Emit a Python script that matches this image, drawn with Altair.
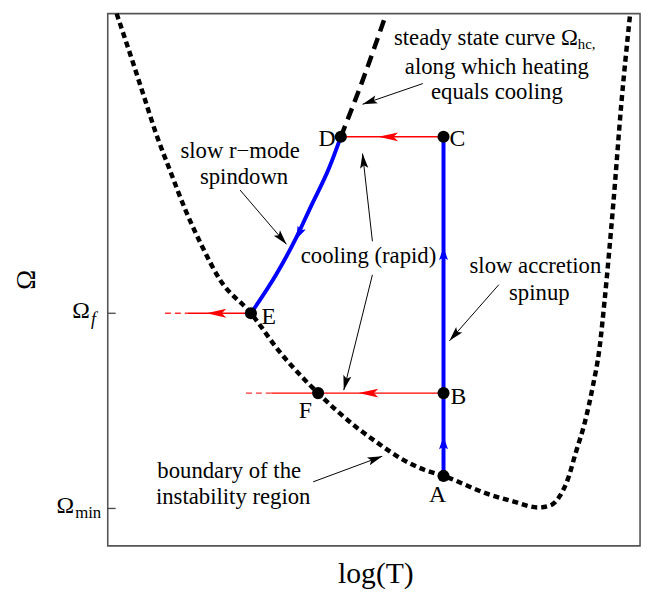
import math
import altair as alt
import pandas as pd

FONT = "Liberation Serif"

# ---- curves (x = log T, y = Omega; arbitrary units) ----
bnd_x = [9, 23, 36, 49, 63, 79, 96, 113, 145, 174, 198, 213, 231, 251, 274, 298, 321, 340,
         384, 411, 436, 448, 458, 466, 474, 483, 491, 498, 503, 512, 520, 529]
bnd_y = [540, 498, 458, 418, 381, 340, 303, 271, 236, 197, 170, 155, 138, 121, 104, 88, 77, 71,
         53, 45, 39, 41, 51, 68, 95, 125, 161, 201, 248, 348, 448, 540]

hc_x = [236, 258, 282]
hc_y = [415, 472, 540]

spin_x = [236, 224, 206, 191, 171, 145]
spin_y = [415, 383, 345, 313, 276, 236]

accr_x = [340, 340]
accr_y = [71, 415]

# ---- states ----
pt_names = ["A", "B", "C", "D", "E", "F"]
pt_x = [340, 340, 340, 236, 145, 213]
pt_y = [71, 155, 415, 415, 236, 155]
lab_x = [334, 355, 354, 222, 163, 200]
lab_y = [52, 151, 413, 413, 232, 137]

# ---- cooling lines (red) ----
cool_x1 = [236, 166, 81]
cool_x2 = [340, 340, 145]
cool_y = [415, 155, 236]
fade_x1 = [140, 58]
fade_x2 = [166, 81]
fade_y = [155, 236]

# ---- arrowheads: (from, tip) ----
red_fx = [290, 270, 116]
red_tx = [274, 254, 100]
red_fy = [415, 155, 236]
red_ty = [415, 155, 236]

blue_fx = [340, 340, 196]
blue_fy = [290, 98, 322]
blue_tx = [340, 340, 191]
blue_ty = [303, 111, 311]

# ---- annotation arrows (tail -> tip) ----
ann_x1 = [319, 134, 268, 268, 396, 208]
ann_y1 = [469, 361, 309, 275, 265, 65]
ann_x2 = [258, 181, 258, 239, 346, 278]
ann_y2 = [448, 306, 398, 158, 208, 91]

# ---- annotation texts ----
txt = ["along which heating", "equals cooling", "slow r\u2212mode", "spindown",
       "cooling (rapid)", "slow accretion", "spinup", "boundary of the", "instability region"]
txt_x = [394, 394, 134, 138, 264, 433, 437, 123, 127]
txt_y = [486, 460, 401, 374, 294, 284, 256, 76, 50]

# y ticks
tick_vals = [236, 38]

XS = alt.Scale(domain=[0, 539], nice=False, zero=False)
YS = alt.Scale(domain=[0, 540], nice=False, zero=False)
XAX = alt.Axis(title="log(T)", labels=False, ticks=False, domain=False, grid=False,
               titleFont=FONT, titleFontSize=30, titleFontWeight="normal", titleColor="black",
               titleX=271, titleY=28, titleBaseline="middle", titleAlign="center")
YAX = alt.Axis(title="\u03a9", labels=False, ticks=False, domain=False, grid=False,
               titleFont=FONT, titleFontSize=27, titleFontWeight="normal", titleColor="black",
               titleX=-82, titleY=269, titleAngle=270, titleBaseline="middle", titleAlign="center")


def X(f):
    return alt.X(f, type="quantitative", scale=XS, axis=XAX)


def Y(f):
    return alt.Y(f, type="quantitative", scale=YS, axis=YAX)


def ang(fx, fy, tx, ty):
    return [math.degrees(math.atan2(-(b - d), a - c)) % 360 for a, b, c, d in zip(tx, ty, fx, fy)]


bnd = pd.DataFrame({"x": bnd_x, "y": bnd_y, "o": range(len(bnd_x))})
hc = pd.DataFrame({"x": hc_x, "y": hc_y, "o": range(len(hc_x))})
spin = pd.DataFrame({"x": spin_x, "y": spin_y, "o": range(len(spin_x))})
accr = pd.DataFrame({"x": accr_x, "y": accr_y, "o": range(len(accr_x))})
pts = pd.DataFrame({"n": pt_names, "x": pt_x, "y": pt_y, "lx": lab_x, "ly": lab_y})
cool = pd.DataFrame({"x": cool_x1, "x2": cool_x2, "y": cool_y})
fade = pd.DataFrame({"x": fade_x1, "x2": fade_x2, "y": fade_y})
redh = pd.DataFrame({"x": red_tx, "y": red_ty, "a": ang(red_fx, red_fy, red_tx, red_ty)})
blueh = pd.DataFrame({"x": blue_tx, "y": blue_ty, "a": ang(blue_fx, blue_fy, blue_tx, blue_ty)})
ann = pd.DataFrame({"x": ann_x1, "y": ann_y1, "x2": ann_x2, "y2": ann_y2,
                    "a": ang(ann_x1, ann_y1, ann_x2, ann_y2)})
tx = pd.DataFrame({"t": txt, "x": txt_x, "y": txt_y})
ticks = pd.DataFrame({"v": tick_vals})

RED_HEAD = "M0,0 L-2,-0.45 L-1.55,0 L-2,0.45 Z"
BLK_HEAD = "M0,0 L-2,-0.55 L-1.6,0 L-2,0.55 Z"
BLU_HEAD = "M0,0 L-2,-0.7 L-1.6,0 L-2,0.7 Z"

layers = []
layers.append(alt.Chart(bnd).mark_line(color="black", strokeWidth=4.5, strokeDash=[6, 4],
                                       interpolate="monotone")
              .encode(x=X("x"), y=Y("y"), order="o:Q"))
layers.append(alt.Chart(hc).mark_line(color="black", strokeWidth=4.5, strokeDash=[12, 7],
                                      interpolate="monotone")
              .encode(x=X("x"), y=Y("y"), order="o:Q"))
layers.append(alt.Chart(cool).mark_rule(color="red", strokeWidth=1.5)
              .encode(x=X("x"), x2="x2", y=Y("y")))
layers.append(alt.Chart(fade).mark_rule(color="red", strokeWidth=1.5, strokeDash=[6, 4], opacity=0.8)
              .encode(x=X("x"), x2="x2", y=Y("y")))
layers.append(alt.Chart(spin).mark_line(color="blue", strokeWidth=4, interpolate="monotone")
              .encode(x=X("x"), y=Y("y"), order="o:Q"))
layers.append(alt.Chart(accr).mark_line(color="blue", strokeWidth=4)
              .encode(x=X("x"), y=Y("y"), order="o:Q"))
layers.append(alt.Chart(redh).mark_point(shape=RED_HEAD, size=400, filled=True, color="red",
                                         opacity=1, strokeWidth=0)
              .encode(x=X("x"), y=Y("y"), angle=alt.Angle("a:Q", scale=None)))
layers.append(alt.Chart(blueh).mark_point(shape=BLU_HEAD, size=169, filled=True, color="blue",
                                          opacity=1, strokeWidth=0)
              .encode(x=X("x"), y=Y("y"), angle=alt.Angle("a:Q", scale=None)))
layers.append(alt.Chart(ann).mark_rule(color="black", strokeWidth=1)
              .encode(x=X("x"), y=Y("y"), x2="x2", y2="y2"))
layers.append(alt.Chart(ann).mark_point(shape=BLK_HEAD, size=225, filled=True, color="black",
                                        opacity=1, strokeWidth=0)
              .encode(x=X("x2"), y=Y("y2"), angle=alt.Angle("a:Q", scale=None)))
layers.append(alt.Chart(pts).mark_circle(size=150, color="black", opacity=1)
              .encode(x=X("x"), y=Y("y")))
layers.append(alt.Chart(pts).mark_text(font=FONT, fontSize=24, color="black",
                                       align="center", baseline="middle")
              .encode(x=X("lx"), y=Y("ly"), text="n:N"))
layers.append(alt.Chart(tx).mark_text(font=FONT, fontSize=23, color="black",
                                      align="center", baseline="middle")
              .encode(x=X("x"), y=Y("y"), text="t:N"))
# first line with subscript
line1 = pd.DataFrame({"x": [476], "y": [515], "t": ["steady state curve \u03a9"]})
sub1 = pd.DataFrame({"x": [476], "y": [509], "t": ["hc,"]})
layers.append(alt.Chart(line1).mark_text(font=FONT, fontSize=23, color="black",
                                         align="right", baseline="middle")
              .encode(x=X("x"), y=Y("y"), text="t:N"))
layers.append(alt.Chart(sub1).mark_text(font=FONT, fontSize=15, color="black",
                                        align="left", baseline="middle")
              .encode(x=X("x"), y=Y("y"), text="t:N"))
# y ticks (inward) and labels
layers.append(alt.Chart(ticks).mark_rule(color="#444444", strokeWidth=1.3)
              .encode(y=Y("v"), x=alt.value(0), x2=alt.value(8)))
om = pd.DataFrame({"v": tick_vals, "t": ["\u03a9", "\u03a9"]})
layers.append(alt.Chart(om.iloc[[0]]).mark_text(font=FONT, fontSize=24, color="black",
                                                align="right", baseline="middle", dy=-2)
              .encode(y=Y("v"), x=alt.value(-18), text="t:N"))
layers.append(alt.Chart(om.iloc[[1]]).mark_text(font=FONT, fontSize=24, color="black",
                                                align="right", baseline="middle", dy=-2)
              .encode(y=Y("v"), x=alt.value(-34), text="t:N"))
subs = pd.DataFrame({"v": tick_vals, "t": ["f", "min"]})
layers.append(alt.Chart(subs.iloc[[0]]).mark_text(font=FONT, fontSize=18, fontStyle="italic",
                                                  color="black", align="left", baseline="middle", dy=7)
              .encode(y=Y("v"), x=alt.value(-17), text="t:N"))
layers.append(alt.Chart(subs.iloc[[1]]).mark_text(font=FONT, fontSize=17, color="black",
                                                  align="left", baseline="middle", dy=5)
              .encode(y=Y("v"), x=alt.value(-33), text="t:N"))

chart = alt.layer(*layers).properties(
    width=539, height=539,
    background="white",
    autosize=alt.AutoSizeParams(type="none"),
    padding={"left": 101, "top": 2, "right": 4, "bottom": 43},
).configure_view(stroke="#555555", strokeWidth=1.6)

chart.save("out.html", embed_options={"renderer": "svg", "actions": False})
